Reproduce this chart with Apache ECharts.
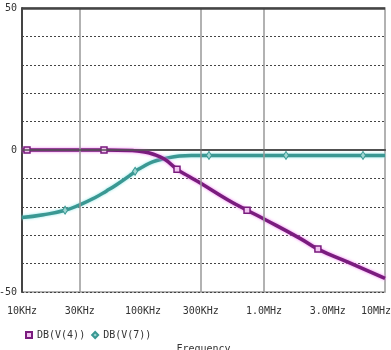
<!DOCTYPE html>
<html>
<head>
<meta charset="utf-8">
<title>DB(V(4)) / DB(V(7))</title>
<script src="https://cdn.jsdelivr.net/npm/echarts@6/dist/echarts.min.js"></script>
<style>
    html, body { margin: 0; padding: 0; background: #fff; }
    #chart { width: 391px; height: 350px; }
</style>
</head>
<body>
<div id="chart"></div>
<script>
    // frequency sweep, dB values
    var v4Freq = [1e4, 1.1e4, 2e4, 4.76e4, 8e4, 1e5, 1.2e5, 1.5e5, 1.91e5, 2.4e5, 3e5, 5e5, 7.24e5, 1e6, 2e6, 2.79e6, 5e6, 1e7];
    var v4Db = [0, 0, 0, 0, -0.2, -0.6, -1.4, -3.2, -6.8, -9.3, -11.7, -17.5, -21.2, -24.3, -31.2, -34.9, -39.6, -45.2];
    var v4Marks = [1.1e4, 4.76e4, 1.91e5, 7.24e5, 2.79e6];

    var v7Freq = [1e4, 1.5e4, 2.27e4, 3e4, 4e4, 5e4, 6e4, 8e4, 8.6e4, 1e5, 1.2e5, 1.5e5, 2e5, 2.5e5, 3.51e5, 1e6, 1.52e6, 6.58e6, 1e7];
    var v7Db = [-23.8, -22.8, -21.2, -19.3, -16.8, -14.4, -12.3, -8.6, -7.5, -5.9, -4.2, -3.1, -2.1, -1.9, -1.9, -1.9, -1.9, -1.9, -1.9];
    var v7Marks = [2.27e4, 8.6e4, 3.51e5, 1.52e6, 6.58e6];

    var xTickVals = [1e4, 3e4, 1e5, 3e5, 1e6, 3e6, 1e7];
    var xTickLabels = ['10KHz', '30KHz', '100KHz', '300KHz', '1.0MHz', '3.0MHz', '10MHz'];
    var xGridVals = [3e4, 3e5, 1e6];
    var yTickVals = [50, 0, -50];

    var purple = '#7a1c7e';
    var teal = '#3a9893';
    var font = 'DejaVu Sans Mono';

    function build(freq, db, marks, sym) {
        return freq.map(function (f, i) {
            return { value: [f, db[i]], symbol: marks.indexOf(f) >= 0 ? sym : 'none' };
        });
    }

    var vLines = xGridVals.map(function (f) {
        return { xAxis: f, lineStyle: { color: '#999', width: 1.5, type: 'solid' } };
    });
    var hLines = [
        { yAxis: 50, lineStyle: { color: '#444', width: 2.5, type: 'solid' } },
        { yAxis: 0, lineStyle: { color: '#555', width: 1.5, type: 'solid' } }
    ];

    var myChart = echarts.init(document.getElementById('chart'));
    var option = {
        animation: false,
        textStyle: { fontFamily: font },
        grid: {
            left: 22, right: 6, top: 8, bottom: 58,
            outerBoundsMode: 'none',
            containLabel: false,
            show: true, borderColor: '#999', borderWidth: 1.5
        },
        legend: {
            left: 20, top: 325,
            itemWidth: 6, itemHeight: 6, itemGap: 6,
            textStyle: { fontFamily: font, fontSize: 10, color: '#333' },
            data: [
                { name: 'DB(V(4))', icon: 'rect' },
                { name: 'DB(V(7))', icon: 'diamond' }
            ]
        },
        xAxis: {
            type: 'log', logBase: 10, min: 1e4, max: 1e7,
            name: 'Frequency', nameLocation: 'middle', nameGap: 52,
            nameTextStyle: { fontFamily: font, fontSize: 10, color: '#333' },
            axisLine: { lineStyle: { color: '#444', width: 2 } },
            axisTick: { show: false },
            splitLine: { show: false },
            minorSplitLine: { show: false },
            axisLabel: {
                customValues: xTickVals,
                margin: 14,
                fontFamily: font, fontSize: 10, color: '#333',
                formatter: function (v) {
                    var i = xTickVals.findIndex(function (t) { return Math.abs(t - v) / t < 1e-6; });
                    if (i < 0) return '';
                    if (i === xTickVals.length - 1) return '{r|' + xTickLabels[i] + '}';
                    if (i === 5) return '{s|' + xTickLabels[i] + '}';
                    return xTickLabels[i];
                },
                rich: {
                    r: { fontFamily: font, fontSize: 10, color: '#333', padding: [0, 18, 0, 0] },
                    s: { fontFamily: font, fontSize: 10, color: '#333', padding: [0, 0, 0, 12] }
                }
            }
        },
        yAxis: {
            type: 'value', min: -50, max: 50, interval: 10,
            axisLine: { show: true, lineStyle: { color: '#444', width: 2 } },
            axisTick: { show: false },
            axisLabel: {
                customValues: yTickVals, margin: 5,
                fontFamily: font, fontSize: 10, color: '#333'
            },
            splitLine: { show: true, lineStyle: { color: '#444', width: 1, type: [2, 2] } }
        },
        series: [
            {
                name: 'DB(V(7))',
                type: 'line',
                smooth: true,
                showSymbol: true,
                showAllSymbol: true,
                symbolSize: [5, 8],
                itemStyle: { color: '#9fd6d2', borderColor: teal, borderWidth: 1 },
                lineStyle: { color: teal, width: 3.5, shadowColor: '#8fe6e6', shadowBlur: 3 },
                data: build(v7Freq, v7Db, v7Marks, 'diamond'),
                markLine: {
                    silent: true, symbol: 'none', animation: false,
                    label: { show: false },
                    data: vLines.concat(hLines)
                },
                z: 3
            },
            {
                name: 'DB(V(4))',
                type: 'line',
                smooth: true,
                showSymbol: true,
                showAllSymbol: true,
                symbolSize: 6,
                itemStyle: { color: '#f2c4f0', borderColor: purple, borderWidth: 1.5 },
                lineStyle: { color: purple, width: 3.5, shadowColor: '#f07cf0', shadowBlur: 3 },
                data: build(v4Freq, v4Db, v4Marks, 'rect'),
                z: 4
            }
        ]
    };
    myChart.setOption(option);
</script>
</body>
</html>
